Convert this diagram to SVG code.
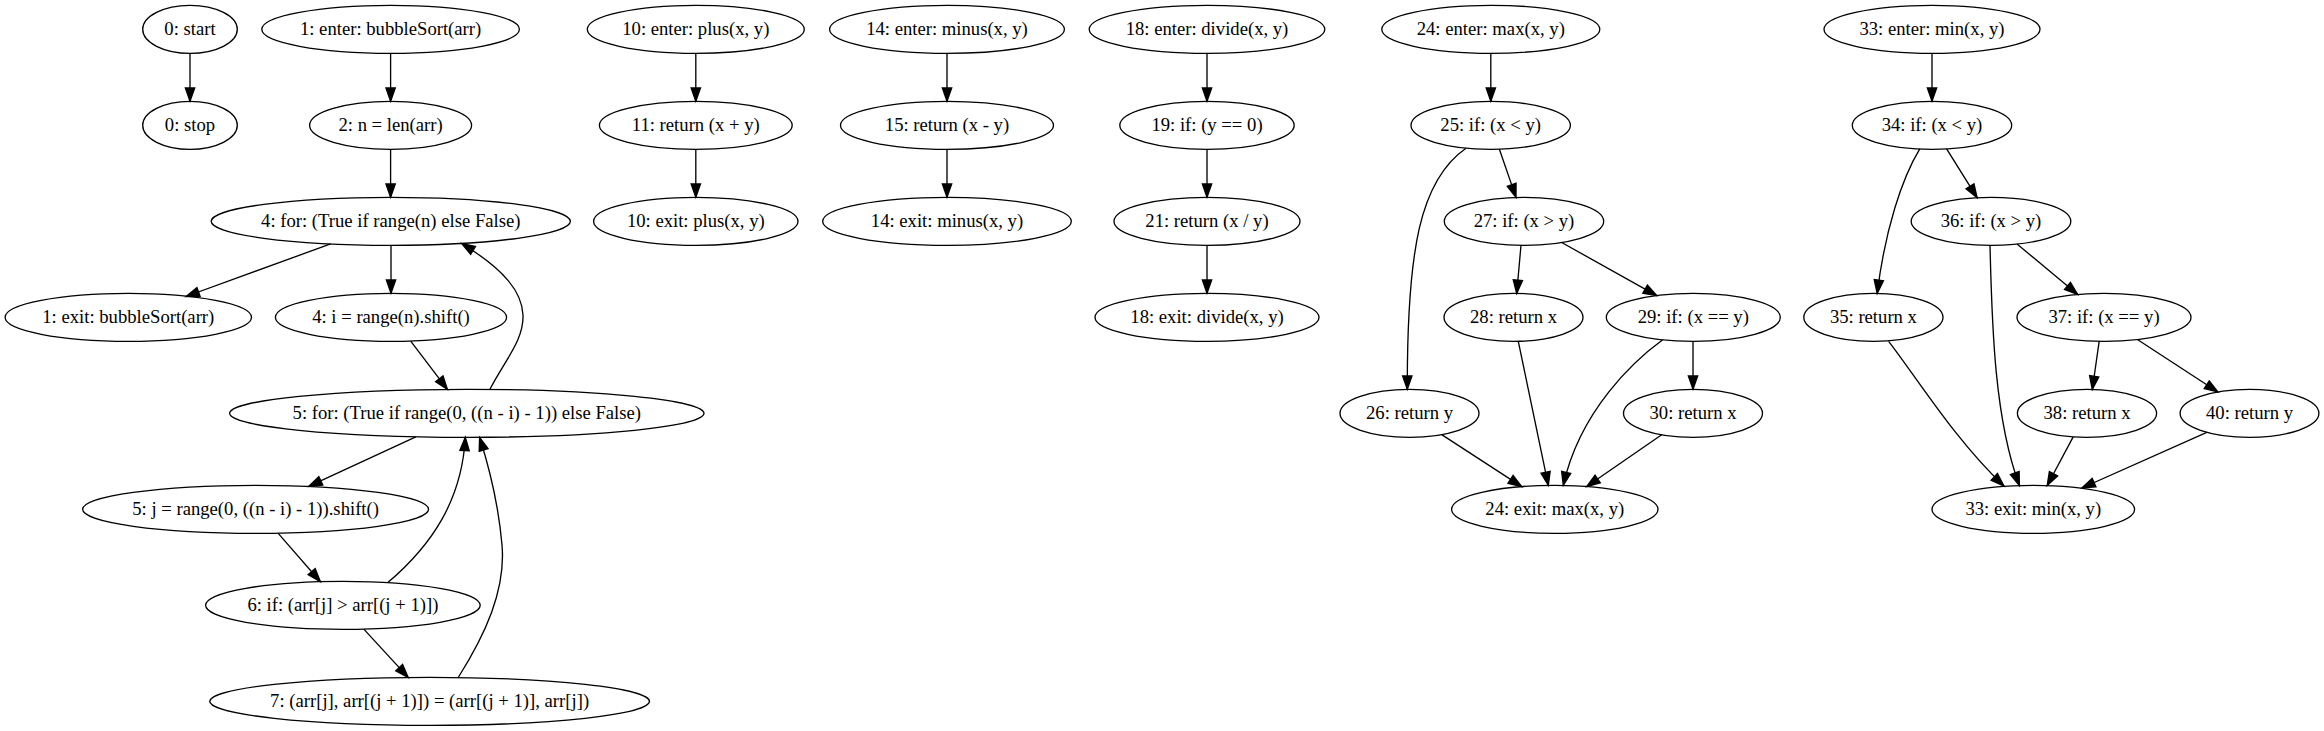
<svg xmlns="http://www.w3.org/2000/svg" width="2324" height="731" viewBox="0 0 2324 731">
<style>
.n ellipse{fill:none;stroke:#000;stroke-width:1.33}
.n text{font-family:"Liberation Serif",Times,serif;font-size:18.67px;text-anchor:middle;fill:#000}
#edges path{fill:none;stroke:#000;stroke-width:1.33;marker-end:url(#ah)}
</style>
<defs>
<marker id="ah" markerUnits="userSpaceOnUse" markerWidth="16" markerHeight="12" refX="13.33" refY="4.67" orient="auto" overflow="visible">
<path d="M0,0 L13.33,4.67 L0,9.33 Z" fill="#000" stroke="#000" stroke-width="1.33"/>
</marker>
</defs>
<rect width="2324" height="731" fill="#fff"/>
<g id="edges">
<path d="M190,53.33 L190,101.33"/>
<path d="M390.6,53.33 L390.6,101.33"/>
<path d="M390.6,149.33 L390.6,197.33"/>
<path d="M330.6,243.9 L186,296.5"/>
<path d="M391,245.33 L391,293.33"/>
<path d="M410.7,341.2 L447.4,389.4"/>
<path d="M489.8,389.5 C505,360 524,340 523,315 C522,292 505,270 461.7,243.5"/>
<path d="M415.8,436.8 L308.7,486.4"/>
<path d="M278,533.1 L320.4,581.7"/>
<path d="M387.8,582.6 C432,545 462,500 465.3,437.3"/>
<path d="M363.8,629.1 L408.2,677.4"/>
<path d="M458.2,677.5 C485,635 506,590 502,545 C499,510 490,470 479.6,437.3"/>
<path d="M695.8,53.33 L695.8,101.33"/>
<path d="M695.8,149.33 L695.8,197.33"/>
<path d="M947,53.33 L947,101.33"/>
<path d="M947,149.33 L947,197.33"/>
<path d="M1207,53.33 L1207,101.33"/>
<path d="M1207,149.33 L1207,197.33"/>
<path d="M1207,245.33 L1207,293.33"/>
<path d="M1490.8,53.33 L1490.8,101.33"/>
<path d="M1499.3,149 L1516,197.4"/>
<path d="M1466,148.2 C1420,180 1407,250 1407.3,389.3"/>
<path d="M1521,245.2 L1516.7,293.4"/>
<path d="M1561.7,242.5 L1656.7,295.6"/>
<path d="M1693,341.33 L1693,389.33"/>
<path d="M1662.7,339.8 C1635,360 1580,410 1563.3,485.4"/>
<path d="M1518.3,341.3 L1548.3,485.4"/>
<path d="M1441.7,434.6 L1521.7,486.6"/>
<path d="M1661.7,434.8 L1586.7,486.5"/>
<path d="M1932,53.33 L1932,101.33"/>
<path d="M1946.6,148.8 L1977.1,197.7"/>
<path d="M1919.8,148.9 C1902,178 1885,230 1877.2,293.4"/>
<path d="M2017,244 L2077.7,294.4"/>
<path d="M1990,245.3 C1992,330 1995,420 2019.4,485.5"/>
<path d="M1888.6,341.3 C1915,375 1955,440 2004,486"/>
<path d="M2099.2,341.2 L2092.3,389.5"/>
<path d="M2137.4,339.5 L2217.9,392"/>
<path d="M2073.2,436.9 L2047.2,485.5"/>
<path d="M2206.8,432.3 L2081.9,488"/>
</g>
<g id="n0start" class="n"><ellipse cx="190" cy="29.33" rx="47.3" ry="24"/><text x="190" y="35.3">0: start</text></g>
<g id="n0stop" class="n"><ellipse cx="190" cy="125.33" rx="47.3" ry="24"/><text x="190" y="131.3">0: stop</text></g>
<g id="n1enter" class="n"><ellipse cx="390.6" cy="29.33" rx="128.8" ry="24"/><text x="390.6" y="35.3">1: enter: bubbleSort(arr)</text></g>
<g id="n2" class="n"><ellipse cx="390.6" cy="125.33" rx="81" ry="24"/><text x="390.6" y="131.3">2: n = len(arr)</text></g>
<g id="n4for" class="n"><ellipse cx="390.8" cy="221.33" rx="179.6" ry="24"/><text x="390.8" y="227.3">4: for: (True if range(n) else False)</text></g>
<g id="n1exit" class="n"><ellipse cx="128.3" cy="317.33" rx="123.2" ry="24"/><text x="128.3" y="323.3">1: exit: bubbleSort(arr)</text></g>
<g id="n4i" class="n"><ellipse cx="391" cy="317.33" rx="115.6" ry="24"/><text x="391" y="323.3">4: i = range(n).shift()</text></g>
<g id="n5for" class="n"><ellipse cx="466.8" cy="413.33" rx="237.2" ry="24"/><text x="466.8" y="419.3">5: for: (True if range(0, ((n - i) - 1)) else False)</text></g>
<g id="n5j" class="n"><ellipse cx="255.6" cy="509.33" rx="173" ry="24"/><text x="255.6" y="515.3">5: j = range(0, ((n - i) - 1)).shift()</text></g>
<g id="n6" class="n"><ellipse cx="342.9" cy="605.33" rx="137.3" ry="24"/><text x="342.9" y="611.3">6: if: (arr[j] &gt; arr[(j + 1)])</text></g>
<g id="n7" class="n"><ellipse cx="429.6" cy="701.33" rx="219.9" ry="24"/><text x="429.6" y="707.3">7: (arr[j], arr[(j + 1)]) = (arr[(j + 1)], arr[j])</text></g>
<g id="n10enter" class="n"><ellipse cx="695.8" cy="29.33" rx="108.5" ry="24"/><text x="695.8" y="35.3">10: enter: plus(x, y)</text></g>
<g id="n11" class="n"><ellipse cx="695.8" cy="125.33" rx="96.4" ry="24"/><text x="695.8" y="131.3">11: return (x + y)</text></g>
<g id="n10exit" class="n"><ellipse cx="695.8" cy="221.33" rx="102.2" ry="24"/><text x="695.8" y="227.3">10: exit: plus(x, y)</text></g>
<g id="n14enter" class="n"><ellipse cx="947" cy="29.33" rx="117.4" ry="24"/><text x="947" y="35.3">14: enter: minus(x, y)</text></g>
<g id="n15" class="n"><ellipse cx="947" cy="125.33" rx="106.5" ry="24"/><text x="947" y="131.3">15: return (x - y)</text></g>
<g id="n14exit" class="n"><ellipse cx="947" cy="221.33" rx="124.3" ry="24"/><text x="947" y="227.3">14: exit: minus(x, y)</text></g>
<g id="n18enter" class="n"><ellipse cx="1207" cy="29.33" rx="117.8" ry="24"/><text x="1207" y="35.3">18: enter: divide(x, y)</text></g>
<g id="n19" class="n"><ellipse cx="1207" cy="125.33" rx="87.2" ry="24"/><text x="1207" y="131.3">19: if: (y == 0)</text></g>
<g id="n21" class="n"><ellipse cx="1207" cy="221.33" rx="93" ry="24"/><text x="1207" y="227.3">21: return (x / y)</text></g>
<g id="n18exit" class="n"><ellipse cx="1207" cy="317.33" rx="112" ry="24"/><text x="1207" y="323.3">18: exit: divide(x, y)</text></g>
<g id="n24enter" class="n"><ellipse cx="1490.8" cy="29.33" rx="109" ry="24"/><text x="1490.8" y="35.3">24: enter: max(x, y)</text></g>
<g id="n25" class="n"><ellipse cx="1490.7" cy="125.33" rx="79.7" ry="24"/><text x="1490.7" y="131.3">25: if: (x &lt; y)</text></g>
<g id="n27" class="n"><ellipse cx="1524" cy="221.33" rx="79.7" ry="24"/><text x="1524" y="227.3">27: if: (x &gt; y)</text></g>
<g id="n28" class="n"><ellipse cx="1513.5" cy="317.33" rx="69.5" ry="24"/><text x="1513.5" y="323.3">28: return x</text></g>
<g id="n29" class="n"><ellipse cx="1693.3" cy="317.33" rx="87" ry="24"/><text x="1693.3" y="323.3">29: if: (x == y)</text></g>
<g id="n26" class="n"><ellipse cx="1409.5" cy="413.33" rx="69.5" ry="24"/><text x="1409.5" y="419.3">26: return y</text></g>
<g id="n30" class="n"><ellipse cx="1693" cy="413.33" rx="69.5" ry="24"/><text x="1693" y="419.3">30: return x</text></g>
<g id="n24exit" class="n"><ellipse cx="1554.8" cy="509.33" rx="103.2" ry="24"/><text x="1554.8" y="515.3">24: exit: max(x, y)</text></g>
<g id="n33enter" class="n"><ellipse cx="1932" cy="29.33" rx="108" ry="24"/><text x="1932" y="35.3">33: enter: min(x, y)</text></g>
<g id="n34" class="n"><ellipse cx="1932" cy="125.33" rx="79.7" ry="24"/><text x="1932" y="131.3">34: if: (x &lt; y)</text></g>
<g id="n36" class="n"><ellipse cx="1991" cy="221.33" rx="79.8" ry="24"/><text x="1991" y="227.3">36: if: (x &gt; y)</text></g>
<g id="n35" class="n"><ellipse cx="1873.4" cy="317.33" rx="69.6" ry="24"/><text x="1873.4" y="323.3">35: return x</text></g>
<g id="n37" class="n"><ellipse cx="2104" cy="317.33" rx="87" ry="24"/><text x="2104" y="323.3">37: if: (x == y)</text></g>
<g id="n38" class="n"><ellipse cx="2087" cy="413.33" rx="69.6" ry="24"/><text x="2087" y="419.3">38: return x</text></g>
<g id="n40" class="n"><ellipse cx="2249.5" cy="413.33" rx="69.4" ry="24"/><text x="2249.5" y="419.3">40: return y</text></g>
<g id="n33exit" class="n"><ellipse cx="2033.3" cy="509.33" rx="101.3" ry="24"/><text x="2033.3" y="515.3">33: exit: min(x, y)</text></g>
</svg>
